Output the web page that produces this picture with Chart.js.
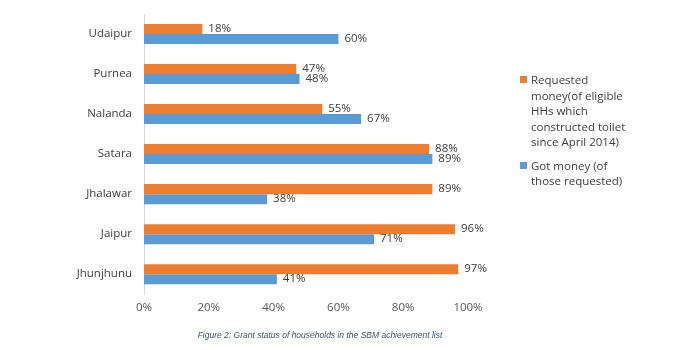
<!DOCTYPE html>
<html>
<head>
<meta charset="utf-8">
<script src="https://cdn.jsdelivr.net/npm/chart.js@4/dist/chart.umd.min.js"></script>
<style>
  body { margin:0; background:#fff; }
  #wrap { position:relative; width:700px; height:350px; font-family:"Open Sans", sans-serif; }
  #c { display:block; }
  #legend { position:absolute; left:520px; top:72px; font-size:11.5px; line-height:15.5px; color:#404040; }
  .item { position:relative; padding-left:11px; margin-bottom:8px; white-space:nowrap; }
  .sw { position:absolute; left:0; top:4px; width:7px; height:7px; }
  #caption { position:absolute; left:0; width:640px; top:330px; text-align:center;
             font-family:"Liberation Sans", sans-serif; font-style:italic; font-size:8.5px; color:#44546a; }
</style>
</head>
<body>
<div id="wrap">
  <canvas id="c" width="700" height="350"></canvas>
  <div id="legend">
    <div class="item"><span class="sw" style="background:#ED7D31"></span>Requested<br>money(of eligible<br>HHs which<br>constructed toilet<br>since April 2014)</div>
    <div class="item"><span class="sw" style="background:#5B9BD5"></span>Got money (of<br>those requested)</div>
  </div>
  <div id="caption">Figure 2: Grant status of households in the SBM achievement list</div>
</div>
<script>
// districts, top to bottom
var districts = ["Udaipur","Purnea","Nalanda","Satara","Jhalawar","Jaipur","Jhunjhunu"];
var requested = [18,47,55,88,89,96,97];
var gotMoney  = [60,48,67,89,38,71,41];
var xTicks    = [0,20,40,60,80,100];

// value labels at bar ends
var barLabels = {
  id: "barLabels",
  afterDatasetsDraw: function(chart){
    var ctx = chart.ctx;
    ctx.save();
    ctx.font = "11.5px 'Open Sans', sans-serif";
    ctx.fillStyle = "#404040";
    ctx.textBaseline = "middle";
    ctx.textAlign = "left";
    chart.data.datasets.forEach(function(ds, i){
      chart.getDatasetMeta(i).data.forEach(function(bar, j){
        ctx.fillText(ds.data[j] + "%", bar.x + 6, bar.y);
      });
    });
    ctx.restore();
  }
};

new Chart(document.getElementById("c").getContext("2d"), {
  type: "bar",
  data: {
    labels: districts,
    datasets: [
      { label: "Requested money", data: requested, backgroundColor: "#ED7D31" },
      { label: "Got money", data: gotMoney, backgroundColor: "#5B9BD5" }
    ]
  },
  options: {
    indexAxis: "y",
    responsive: false,
    animation: false,
    layout: { padding: { left: 0, right: 232, top: 14, bottom: 28 } },
    datasets: { bar: { barPercentage: 1, categoryPercentage: 0.5 } },
    plugins: { legend: { display: false }, tooltip: { enabled: false } },
    scales: {
      x: {
        min: 0, max: 100,
        afterBuildTicks: function(s){ s.ticks = xTicks.map(function(v){ return { value: v }; }); },
        grid: { display: false, drawTicks: false },
        border: { display: false },
        ticks: { padding: 7, maxRotation: 0, color: "#595959", font: { family: "'Open Sans', sans-serif", size: 11.5 },
                 callback: function(v){ return v + "%"; } }
      },
      y: {
        afterFit: function(s){ s.width = 144; s.paddingTop = 0; s.paddingBottom = 0; },
        grid: { display: false, drawTicks: false },
        border: { display: true, color: "#d9d9d9" },
        ticks: { padding: 12, color: "#404040", font: { family: "'Open Sans', sans-serif", size: 11.5 } }
      }
    }
  },
  plugins: [barLabels]
});
</script>
</body>
</html>
